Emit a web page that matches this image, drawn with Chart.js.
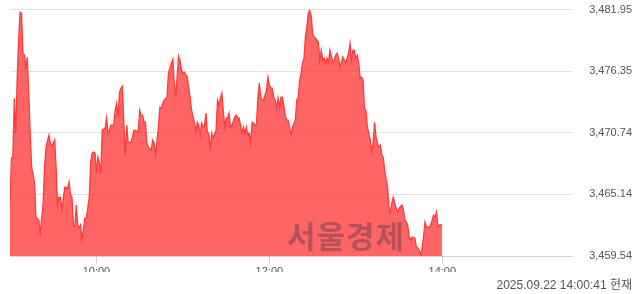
<!DOCTYPE html>
<html>
<head>
<meta charset="utf-8">
<script src="https://cdn.jsdelivr.net/npm/chart.js@4"></script>
<style>
  html, body { margin: 0; padding: 0; background: #fff; }
  #wrap { width: 640px; height: 294px; }
</style>
</head>
<body>
<div id="wrap"><canvas id="chart"></canvas></div>
<script>
// minutes after 09:00 and index level at that minute
const minutes = [
  0, 1, 2, 3, 4, 5, 6, 7, 8, 9, 10, 11, 12, 13, 14, 15, 17, 18, 20, 21, 23, 24, 25, 27, 28, 29,
  31, 32, 33, 34, 35, 36, 38, 40, 41, 42, 43, 44, 45, 46, 47, 48, 49, 50, 52, 53, 55, 56, 57, 58, 59,
  60, 61, 62, 63, 64, 66, 67, 68, 69, 70, 72, 73, 74, 75, 76, 77, 78, 79, 80, 81, 82, 84, 85, 86, 88, 89,
  90, 91, 92, 93, 94, 95, 96, 98, 99, 100, 101, 102, 103, 104, 105, 106, 107, 109, 110, 111, 112, 113, 114, 115, 117, 118, 119,
  120, 121, 123, 125, 126, 128, 129, 130, 131, 132, 133, 134, 135, 136, 137, 138, 139, 140, 141, 143, 144, 145, 146, 147, 148, 149,
  150, 151, 152, 153, 154, 156, 157, 158, 159, 160, 161, 162, 163, 164, 165, 166, 167, 168, 169, 170, 171, 172, 173, 174, 175, 176, 178, 179,
  180, 181, 182, 183, 184, 185, 186, 187, 188, 189, 190, 191, 192, 193, 194, 195, 196, 198, 199, 200, 201, 202, 203, 204, 205, 206, 207, 208, 209,
  210, 211, 212, 214, 215, 216, 217, 218, 219, 220, 221, 222, 224, 225, 226, 227, 228, 229, 231, 232, 233, 234, 235, 236, 237, 238, 239,
  240, 241, 242, 243, 244, 245, 246, 247, 248, 250, 251, 252, 253, 254, 255, 256, 257, 258, 259, 260, 262, 263, 264, 265, 266, 267, 268, 269,
  270, 272, 273, 274, 275, 276, 277, 278, 279, 281, 282, 283, 284, 285, 286, 287, 288, 289, 291, 292, 293, 294, 295, 296, 297, 298, 300
];
const values = [
  3464.35, 3468.44, 3468.53, 3473.89, 3470.71, 3475.80, 3479.16, 3481.71, 3481.61, 3477.98, 3477.80, 3476.62, 3477.62, 3474.35, 3470.71, 3467.62, 3466.26, 3463.08, 3462.81, 3461.63, 3464.35, 3467.62, 3469.44, 3470.53, 3469.81, 3469.53,
  3470.08, 3467.62, 3464.17, 3464.90, 3464.90, 3463.72, 3465.81, 3465.72, 3466.26, 3465.08, 3464.90, 3462.36, 3462.17, 3464.17, 3462.36, 3462.08, 3462.36, 3460.99, 3462.99, 3462.99, 3464.90, 3468.08, 3468.90, 3468.99, 3468.90,
  3467.08, 3468.53, 3467.99, 3467.08, 3470.99, 3471.17, 3472.08, 3470.71, 3470.99, 3471.44, 3471.44, 3472.80, 3473.44, 3472.17, 3474.44, 3474.80, 3474.98, 3471.62, 3468.71, 3471.44, 3469.90, 3469.90, 3470.35, 3470.99, 3470.90, 3470.80,
  3472.80, 3472.35, 3472.35, 3471.71, 3471.71, 3469.81, 3469.44, 3469.17, 3470.08, 3469.81, 3468.71, 3470.08, 3471.26, 3473.08, 3472.98, 3473.44, 3473.71, 3473.98, 3476.25, 3476.62, 3477.07, 3477.44, 3475.26, 3473.98, 3477.71, 3477.34, 3476.44,
  3476.16, 3476.25, 3475.80, 3473.98, 3472.80, 3471.62, 3470.80, 3471.71, 3471.44, 3470.53, 3471.62, 3471.26, 3471.44, 3472.53, 3470.71, 3470.71, 3469.17, 3470.71, 3470.26, 3470.99, 3473.71, 3473.26, 3473.89, 3474.35, 3472.80, 3471.26,
  3472.08, 3472.08, 3472.53, 3471.26, 3471.44, 3472.17, 3472.35, 3472.08, 3472.08, 3471.44, 3470.71, 3471.26, 3470.71, 3471.26, 3470.53, 3470.71, 3469.81, 3471.71, 3471.62, 3471.44, 3471.44, 3473.89, 3475.26, 3473.98, 3473.71, 3473.71, 3474.62, 3475.80,
  3475.07, 3474.80, 3474.80, 3473.98, 3473.71, 3472.98, 3473.89, 3473.08, 3473.98, 3473.98, 3473.26, 3472.35, 3471.89, 3471.89, 3471.26, 3470.53, 3471.26, 3471.89, 3473.71, 3473.98, 3475.53, 3476.16, 3477.07, 3477.53, 3479.43, 3480.34, 3481.61, 3481.89, 3481.43,
  3479.80, 3479.43, 3479.34, 3478.98, 3477.34, 3478.25, 3477.34, 3477.53, 3477.07, 3477.53, 3477.07, 3478.25, 3477.16, 3477.34, 3477.80, 3477.98, 3477.53, 3476.71, 3477.62, 3477.34, 3477.16, 3477.53, 3477.98, 3478.89, 3477.34, 3478.25, 3478.25,
  3477.53, 3477.80, 3477.07, 3475.71, 3475.80, 3475.53, 3472.98, 3472.80, 3471.26, 3470.08, 3468.99, 3469.81, 3471.71, 3470.35, 3469.81, 3469.44, 3469.62, 3468.71, 3468.53, 3467.35, 3465.81, 3463.99, 3463.45, 3464.35, 3464.90, 3464.35, 3463.90, 3463.54,
  3463.90, 3464.17, 3463.72, 3462.81, 3462.63, 3462.36, 3461.27, 3460.99, 3461.27, 3461.18, 3460.36, 3460.27, 3460.09, 3459.63, 3460.27, 3461.27, 3462.63, 3462.17, 3462.17, 3462.36, 3462.81, 3463.26, 3463.08, 3463.54, 3462.17, 3462.36, 3462.36
];

const sessionLength = 390; // 09:00 - 15:30
const xTickMinutes = [60, 180, 300];
const xTickLabels = ["10:00", "12:00", "14:00"];
const yTickValues = [3459.54, 3465.14, 3470.74, 3476.35, 3481.95];
const yTickLabels = ["3,459.54", "3,465.14", "3,470.74", "3,476.35", "3,481.95"];
const stampText = "2025.09.22 14:00:41 현재";
const watermarkText = "서울경제";

const points = minutes.map((m, i) => ({ x: m, y: values[i] }));

const extras = {
  id: "extras",
  afterDatasetsDraw(chart) {
    const ctx = chart.ctx;
    ctx.save();
    ctx.font = 'bold 31px "Noto Sans CJK KR"';
    ctx.fillStyle = "rgba(90,60,70,0.45)";
    ctx.textAlign = "left";
    ctx.textBaseline = "middle";
    ctx.letterSpacing = "1px";
    ctx.fillText(watermarkText, 287, 236);
    ctx.restore();
  },
  afterDraw(chart) {
    const ctx = chart.ctx;
    ctx.save();
    ctx.font = '12px "Liberation Sans", "Noto Sans CJK KR"';
    ctx.fillStyle = "#555";
    ctx.textAlign = "right";
    ctx.textBaseline = "middle";
    ctx.fillText(stampText, 632, 286);
    ctx.restore();
  }
};

new Chart(document.getElementById("chart"), {
  type: "line",
  data: {
    datasets: [{
      data: points,
      borderColor: "#ff3b3b",
      borderWidth: 1.3,
      backgroundColor: "rgba(255,50,50,0.75)",
      fill: "start",
      pointRadius: 0,
      tension: 0
    }]
  },
  options: {
    responsive: true,
    maintainAspectRatio: false,
    animation: false,
    layout: { padding: { left: 10, top: 9, right: 8, bottom: 22 } },
    plugins: { legend: { display: false }, tooltip: { enabled: false } },
    scales: {
      x: {
        type: "linear",
        min: 0,
        max: sessionLength,
        afterBuildTicks: a => { a.ticks = xTickMinutes.map(v => ({ value: v })); },
        afterFit: a => { a.height = 16; },
        ticks: {
          callback: (v, i) => xTickLabels[i],
          autoSkip: false,
          maxRotation: 0,
          padding: 1,
          color: "#555",
          font: { family: "Liberation Sans", size: 11 }
        },
        grid: { drawOnChartArea: false, color: "#c9d3e3", tickLength: 8 },
        border: { color: "#c9d3e3" }
      },
      y: {
        position: "right",
        min: yTickValues[0],
        max: yTickValues[yTickValues.length - 1],
        afterBuildTicks: a => { a.ticks = yTickValues.map(v => ({ value: v })); },
        afterFit: a => { a.width = 60; },
        ticks: {
          callback: (v, i) => yTickLabels[i],
          crossAlign: "far",
          color: "#555",
          font: { family: "Liberation Sans", size: 11 }
        },
        grid: { color: "#e3e3e3", drawTicks: false },
        border: { display: false }
      }
    }
  },
  plugins: [extras]
});
</script>
</body>
</html>
